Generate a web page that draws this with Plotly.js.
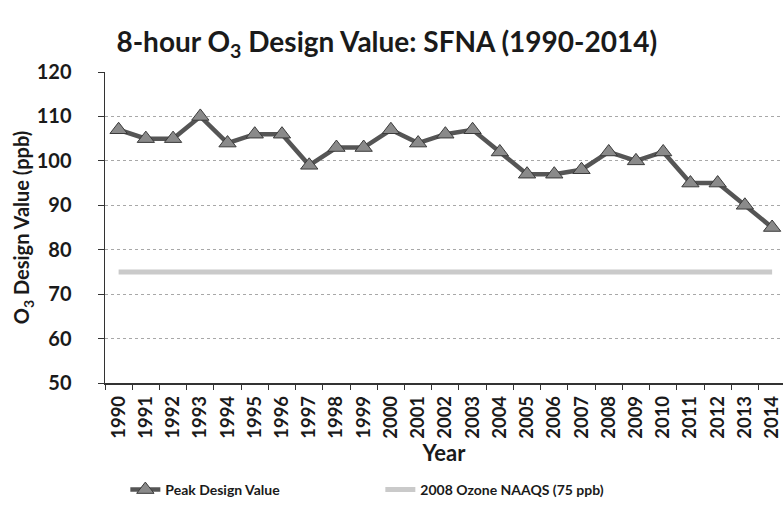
<!DOCTYPE html>
<html>
<head>
<meta charset="utf-8">
<script src="https://cdn.plot.ly/plotly-3.0.1.min.js"></script>
<style>html,body{margin:0;padding:0;background:#fff;}#chart{width:783px;height:514px;}</style>
</head>
<body>
<div id="chart"></div>
<script>
const years = ['1990','1991','1992','1993','1994','1995','1996','1997','1998','1999','2000','2001','2002','2003','2004','2005','2006','2007','2008','2009','2010','2011','2012','2013','2014'];
const peakDesignValue = [107,105,105,110,104,106,106,99,103,103,107,104,106,107,102,97,97,98,102,100,102,95,95,90,85];
const naaqs2008 = [75,75,75,75,75,75,75,75,75,75,75,75,75,75,75,75,75,75,75,75,75,75,75,75,75];
const yTicks = [50,60,70,80,90,100,110,120];

const FONT = 'Lato, "Open Sans", sans-serif';

const traces = [
  {
    x: years, y: peakDesignValue, type: 'scatter', mode: 'lines+markers',
    name: '<b>Peak Design Value</b>',
    line: {color: '#555555', width: 4.5},
    marker: {symbol: 'triangle-up', size: 15, color: '#8a8a8a', line: {color: '#3a3a3a', width: 1}}
  },
  {
    x: years, y: naaqs2008, type: 'scatter', mode: 'lines',
    name: '<b>2008 Ozone NAAQS (75 ppb)</b>',
    line: {color: '#cacaca', width: 5}
  }
];

const layout = {
  width: 783, height: 514,
  margin: {l: 105, r: 0, t: 72, b: 131},
  paper_bgcolor: '#fff', plot_bgcolor: '#fff',
  font: {family: FONT, color: '#1a1a1a'},
  showlegend: true,
  title: {
    text: '<b>8-hour O<sub>3</sub> Design Value: SFNA (1990-2014)</b>',
    font: {family: FONT, size: 28, color: '#1a1a1a'},
    x: 0.494, xref: 'container', xanchor: 'center', y: 0.918, yanchor: 'middle'
  },
  xaxis: {
    type: 'category', categoryorder: 'array', categoryarray: years,
    range: [-0.5, 24.4],
    tickvals: years, ticktext: years.map(v => '<b>' + v + '</b>'),
    tickangle: -90, tickfont: {family: FONT, size: 18.5, color: '#1a1a1a'},
    ticks: 'outside', ticklen: 5, tickcolor: '#333', tickson: 'boundaries',
    ticklabelstandoff: 4,
    showline: true, linecolor: '#333', linewidth: 1.5,
    showgrid: false, zeroline: false,
    title: {text: '<b>Year</b>', font: {family: FONT, size: 22, color: '#1a1a1a'}, standoff: 6}
  },
  yaxis: {
    range: [50, 120], tickvals: yTicks, ticktext: yTicks.map(v => '<b>' + v + '</b>'),
    tickfont: {family: FONT, size: 20, color: '#1a1a1a'},
    ticks: 'outside', ticklen: 6, tickcolor: '#333', ticklabelstandoff: 22,
    showline: true, linecolor: '#333', linewidth: 1.5,
    showgrid: true, gridcolor: '#a8a8a8', gridwidth: 1, griddash: 'dot',
    zeroline: false,
    title: {text: '<b>O<sub>3</sub> Design Value (ppb)</b>', font: {family: FONT, size: 20, color: '#1a1a1a'}, standoff: 0}
  },
  legend: {
    orientation: 'h', x: 0.03, xanchor: 'left', y: -0.344, yanchor: 'middle',
    font: {family: FONT, size: 14, color: '#1a1a1a'},
    entrywidth: 210, entrywidthmode: 'pixels', itemwidth: 30,
    bgcolor: 'rgba(0,0,0,0)'
  }
};

Plotly.newPlot('chart', traces, layout, {displayModeBar: false, staticPlot: true});
</script>
</body>
</html>
